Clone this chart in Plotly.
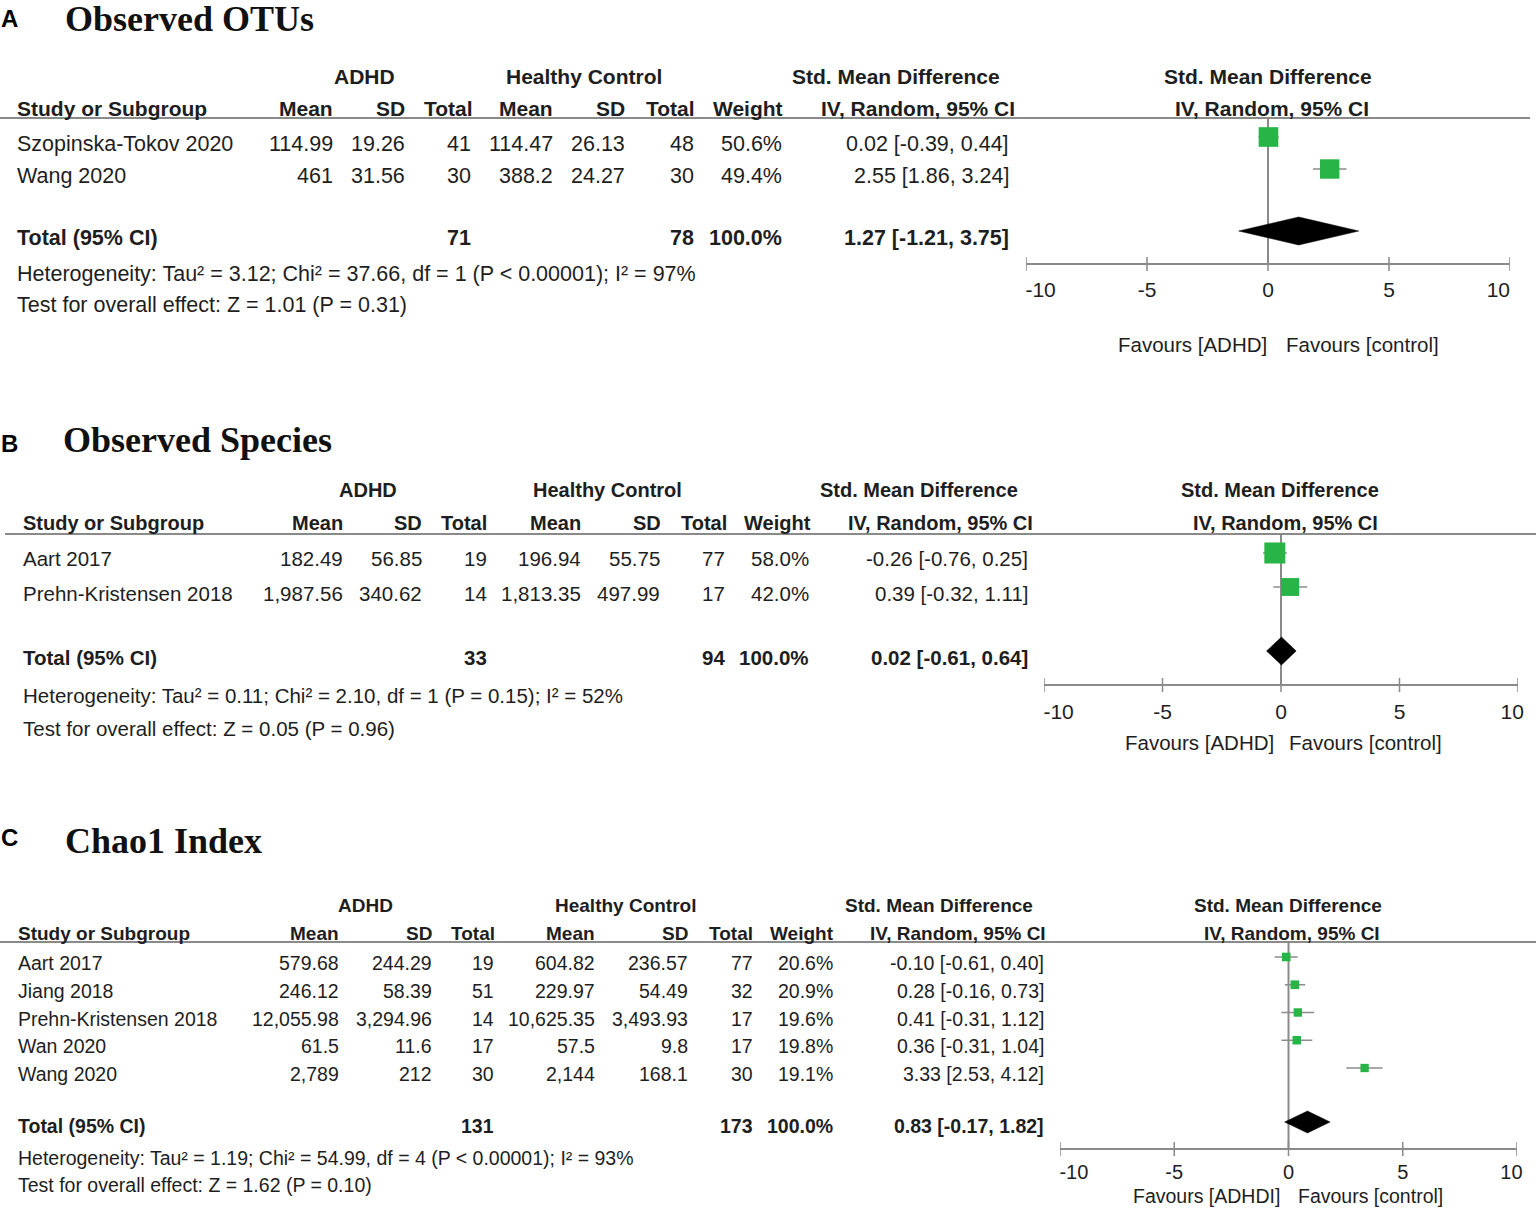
import plotly.graph_objects as go

W, H = 1536, 1208

# ---------------- data ----------------
ticks = [-10, -5, 0, 5, 10]
tick_labels = ["-10", "-5", "0", "5", "10"]
col_names = ["Mean", "SD", "Total", "Mean", "SD", "Total", "Weight"]

# Panel A: Observed OTUs
studies_A = ["Szopinska-Tokov 2020", "Wang 2020"]
adhd_mean_A = ["114.99", "461"]
adhd_sd_A = ["19.26", "31.56"]
adhd_n_A = [41, 30]
hc_mean_A = ["114.47", "388.2"]
hc_sd_A = ["26.13", "24.27"]
hc_n_A = [48, 30]
weight_A = [50.6, 49.4]
smd_A = [0.02, 2.55]
lo_A = [-0.39, 1.86]
hi_A = [0.44, 3.24]
total_n_A = [71, 78]
pooled_A = [1.27, -1.21, 3.75]
het_A = "Heterogeneity: Tau² = 3.12; Chi² = 37.66, df = 1 (P < 0.00001); I² = 97%"
test_A = "Test for overall effect: Z = 1.01 (P = 0.31)"

# Panel B: Observed Species
studies_B = ["Aart 2017", "Prehn-Kristensen 2018"]
adhd_mean_B = ["182.49", "1,987.56"]
adhd_sd_B = ["56.85", "340.62"]
adhd_n_B = [19, 14]
hc_mean_B = ["196.94", "1,813.35"]
hc_sd_B = ["55.75", "497.99"]
hc_n_B = [77, 17]
weight_B = [58.0, 42.0]
smd_B = [-0.26, 0.39]
lo_B = [-0.76, -0.32]
hi_B = [0.25, 1.11]
total_n_B = [33, 94]
pooled_B = [0.02, -0.61, 0.64]
het_B = "Heterogeneity: Tau² = 0.11; Chi² = 2.10, df = 1 (P = 0.15); I² = 52%"
test_B = "Test for overall effect: Z = 0.05 (P = 0.96)"

# Panel C: Chao1 Index
studies_C = ["Aart 2017", "Jiang 2018", "Prehn-Kristensen 2018", "Wan 2020", "Wang 2020"]
adhd_mean_C = ["579.68", "246.12", "12,055.98", "61.5", "2,789"]
adhd_sd_C = ["244.29", "58.39", "3,294.96", "11.6", "212"]
adhd_n_C = [19, 51, 14, 17, 30]
hc_mean_C = ["604.82", "229.97", "10,625.35", "57.5", "2,144"]
hc_sd_C = ["236.57", "54.49", "3,493.93", "9.8", "168.1"]
hc_n_C = [77, 32, 17, 17, 30]
weight_C = [20.6, 20.9, 19.6, 19.8, 19.1]
smd_C = [-0.10, 0.28, 0.41, 0.36, 3.33]
lo_C = [-0.61, -0.16, -0.31, -0.31, 2.53]
hi_C = [0.40, 0.73, 1.12, 1.04, 4.12]
total_n_C = [131, 173]
pooled_C = [0.83, -0.17, 1.82]
het_C = "Heterogeneity: Tau² = 1.19; Chi² = 54.99, df = 4 (P < 0.00001); I² = 93%"
test_C = "Test for overall effect: Z = 1.62 (P = 0.10)"

data_A = dict(studies=studies_A, am=adhd_mean_A, asd=adhd_sd_A, an=adhd_n_A, hm=hc_mean_A,
              hsd=hc_sd_A, hn=hc_n_A, w=weight_A, smd=smd_A, lo=lo_A, hi=hi_A,
              tot=total_n_A, pooled=pooled_A, het=het_A, test=test_A)
data_B = dict(studies=studies_B, am=adhd_mean_B, asd=adhd_sd_B, an=adhd_n_B, hm=hc_mean_B,
              hsd=hc_sd_B, hn=hc_n_B, w=weight_B, smd=smd_B, lo=lo_B, hi=hi_B,
              tot=total_n_B, pooled=pooled_B, het=het_B, test=test_B)
data_C = dict(studies=studies_C, am=adhd_mean_C, asd=adhd_sd_C, an=adhd_n_C, hm=hc_mean_C,
              hsd=hc_sd_C, hn=hc_n_C, w=weight_C, smd=smd_C, lo=lo_C, hi=hi_C,
              tot=total_n_C, pooled=pooled_C, het=het_C, test=test_C)

# ---------------- layout (pixel positions) ----------------
lay_A = dict(letter="A", title="Observed OTUs", letter_y=18, title_x=64, title_y=19,
             fs=21.5, hfs=21, tfs=21, ffs=20.5, grp_y=77, col_y=108, line_y=118, line_x=(0, 1530),
             row0=144, step=32, total_y=238, het_y=274, test_y=305, study_x=16,
             cols=[334, 406, 472, 554, 626, 695, 783, 1010],
             hdr_cols=[334, 406, 474, 554, 626, 696, 784],
             adhd_c=364, hc_c=584, smd_c=896, iv_c=918,
             fx0=1026, fx1=1510, axis_y=264, standoff=7, fav_y=344, fav_l=1192, fav_r=1362,
             fhdr_c=1268, fiv_c=1272, moff=-7, doff=-7, dh=14, k=2.76,
             pad_l=5, pad_r=4, fav_left="Favours [ADHD]")
lay_B = dict(letter="B", title="Observed Species", letter_y=443, title_x=62, title_y=440,
             fs=20.5, hfs=20, tfs=21, ffs=20.5, grp_y=490, col_y=523, line_y=534, line_x=(5, 1536),
             row0=559, step=34, total_y=657, het_y=696, test_y=728, study_x=22,
             cols=[344, 423, 488, 582, 661, 726, 810, 1029],
             hdr_cols=[344, 423, 488, 582, 662, 728, 812],
             adhd_c=368, hc_c=607, smd_c=919, iv_c=940,
             fx0=1044, fx1=1518, axis_y=685, standoff=8, fav_y=742, fav_l=1199, fav_r=1365,
             fhdr_c=1280, fiv_c=1285, moff=-6, doff=-6, dh=14, k=2.76,
             pad_l=5, pad_r=2, fav_left="Favours [ADHD]")
lay_C = dict(letter="C", title="Chao1 Index", letter_y=837, title_x=64, title_y=841,
             fs=19.5, hfs=19, tfs=20, ffs=19.5, grp_y=905, col_y=933, line_y=942, line_x=(0, 1536),
             row0=963, step=27.75, total_y=1126, het_y=1158, test_y=1185, study_x=17,
             cols=[340, 433, 495, 596, 689, 754, 834, 1045],
             hdr_cols=[340, 433, 496, 596, 689, 754, 835],
             adhd_c=365, hc_c=625, smd_c=939, iv_c=958,
             fx0=1060, fx1=1517, axis_y=1149, standoff=5, fav_y=1196, fav_l=1206, fav_r=1370,
             fhdr_c=1288, fiv_c=1292, moff=-6, doff=-4, dh=11, k=1.9,
             pad_l=5, pad_r=2, fav_left="Favours [ADHDI]")

FONT = "Liberation Sans, Arial, Helvetica, sans-serif"
SERIF = "Liberation Serif, Times New Roman, serif"
TXT = "#1e1e1e"
GREY = "#8a8a8a"
CI_COL = "#8c8c8c"
GREEN = "#28b446"
NB = "\u00a0"

fig = go.Figure()
annotations = []
shapes = []


def px(x):
    return x / W


def py(y):
    return 1 - y / H


def txt(x, y, s, anchor="left", size=21, bold=False, family=FONT, color=TXT):
    annotations.append(dict(
        x=px(x), y=py(y), xref="paper", yref="paper", text=s, showarrow=False,
        xanchor=anchor, yanchor="middle", borderpad=0,
        font=dict(family=family, size=size, color=color,
                  weight="bold" if bold else "normal")))


def panel(d, L, ax):
    n = len(d["studies"])
    f, hf = L["fs"], L["hfs"]
    txt(0, L["letter_y"], L["letter"], size=24, bold=True, color="#000")
    txt(L["title_x"], L["title_y"], L["title"], size=36, bold=True, family=SERIF, color="#111")
    # group headers
    txt(L["adhd_c"], L["grp_y"], "ADHD", "center", hf, True)
    txt(L["hc_c"], L["grp_y"], "Healthy Control", "center", hf, True)
    txt(L["smd_c"], L["grp_y"], "Std. Mean Difference", "center", hf, True)
    txt(L["fhdr_c"], L["grp_y"], "Std. Mean Difference", "center", hf, True)
    # column headers
    txt(L["study_x"], L["col_y"], "Study or Subgroup", "left", hf, True)
    for name, xr in zip(col_names, L["hdr_cols"]):
        txt(xr, L["col_y"], name, "right", hf, True)
    txt(L["iv_c"], L["col_y"], "IV, Random, 95% CI", "center", hf, True)
    txt(L["fiv_c"], L["col_y"], "IV, Random, 95% CI", "center", hf, True)
    shapes.append(dict(type="line", xref="paper", yref="paper",
                       x0=px(L["line_x"][0]), x1=px(L["line_x"][1]),
                       y0=py(L["line_y"]), y1=py(L["line_y"]),
                       line=dict(color=GREY, width=2)))
    c = L["cols"]
    for i in range(n):
        y = L["row0"] + i * L["step"]
        vals = [d["am"][i], d["asd"][i], str(d["an"][i]), d["hm"][i], d["hsd"][i],
                str(d["hn"][i]), f"{d['w'][i]:.1f}%",
                f"{d['smd'][i]:.2f} [{d['lo'][i]:.2f}, {d['hi'][i]:.2f}]"]
        txt(L["study_x"], y, d["studies"][i], "left", f)
        for v, xr in zip(vals, c):
            txt(xr, y, v, "right", f)
    ty = L["total_y"]
    est, plo, phi = d["pooled"]
    txt(L["study_x"], ty, "Total (95% CI)", "left", f, True)
    txt(c[2], ty, str(d["tot"][0]), "right", f, True)
    txt(c[5], ty, str(d["tot"][1]), "right", f, True)
    txt(c[6], ty, f"{sum(d['w']):.1f}%", "right", f, True)
    txt(c[7], ty, f"{est:.2f} [{plo:.2f}, {phi:.2f}]", "right", f, True)
    txt(L["study_x"], L["het_y"], d["het"], "left", f)
    txt(L["study_x"], L["test_y"], d["test"], "left", f)

    # ---- forest plot ----
    xa = "x" + ax
    shapes.append(dict(type="line", xref=xa, yref="y", x0=0, x1=0,
                       y0=L["line_y"], y1=L["axis_y"], layer="below",
                       line=dict(color=GREY, width=2)))
    for t in ticks:
        shapes.append(dict(type="line", xref=xa, yref="y", x0=t, x1=t,
                           y0=L["axis_y"] - 7, y1=L["axis_y"] + 7,
                           line=dict(color=GREY, width=1.5)))
    ys = [L["row0"] + i * L["step"] + L["moff"] for i in range(n)]
    cx, cy = [], []
    for lo, hi, y in zip(d["lo"], d["hi"], ys):
        cx += [lo, hi, None]
        cy += [y, y, None]
    fig.add_trace(go.Scatter(x=cx, y=cy, mode="lines", xaxis=xa, yaxis="y",
                             line=dict(color=CI_COL, width=1.5),
                             hoverinfo="skip", showlegend=False))
    fig.add_trace(go.Scatter(x=d["smd"], y=ys, mode="markers", xaxis=xa, yaxis="y",
                             marker=dict(symbol="square", color=GREEN, opacity=1,
                                         size=[L["k"] * w ** 0.5 for w in d["w"]],
                                         line=dict(width=0)),
                             showlegend=False))
    yc = ty + L["doff"]
    h = L["dh"]
    fig.add_trace(go.Scatter(x=[plo, est, phi, est, plo], y=[yc, yc - h, yc, yc + h, yc],
                             mode="lines", fill="toself", fillcolor="#000",
                             xaxis=xa, yaxis="y", line=dict(color="#000", width=0.5),
                             showlegend=False, hoverinfo="skip"))
    txt(L["fav_l"], L["fav_y"], L["fav_left"], "center", L["ffs"])
    txt(L["fav_r"], L["fav_y"], "Favours [control]", "center", L["ffs"])
    # end labels sit slightly inside the axis ends, as in RevMan
    ttext = list(tick_labels)
    ttext[0] = NB * L["pad_l"] + ttext[0]
    ttext[-1] = ttext[-1] + NB * L["pad_r"]
    fig.update_layout(**{"xaxis" + ax: dict(
        domain=[px(L["fx0"]), px(L["fx1"])], range=[-10, 10], anchor="free",
        position=py(L["axis_y"]), showline=True, linecolor=GREY, linewidth=1.5,
        ticks="", tickvals=ticks, ticktext=ttext, ticklabeloverflow="allow",
        tickfont=dict(family=FONT, size=L["tfs"], color=TXT),
        ticklabelstandoff=L["standoff"], automargin=False,
        showgrid=False, zeroline=False, fixedrange=True)})


panel(data_A, lay_A, "")
panel(data_B, lay_B, "2")
panel(data_C, lay_C, "3")

fig.update_layout(
    width=W, height=H, margin=dict(l=0, r=0, t=0, b=0, pad=0, autoexpand=False),
    paper_bgcolor="white", plot_bgcolor="rgba(0,0,0,0)",
    yaxis=dict(domain=[0, 1], range=[H, 0], visible=False, fixedrange=True,
               anchor="free", position=0, automargin=False),
    annotations=annotations, shapes=shapes, showlegend=False,
)

fig.write_html("out.html", config={"displayModeBar": False},
               post_script="document.body.style.margin='0';")
